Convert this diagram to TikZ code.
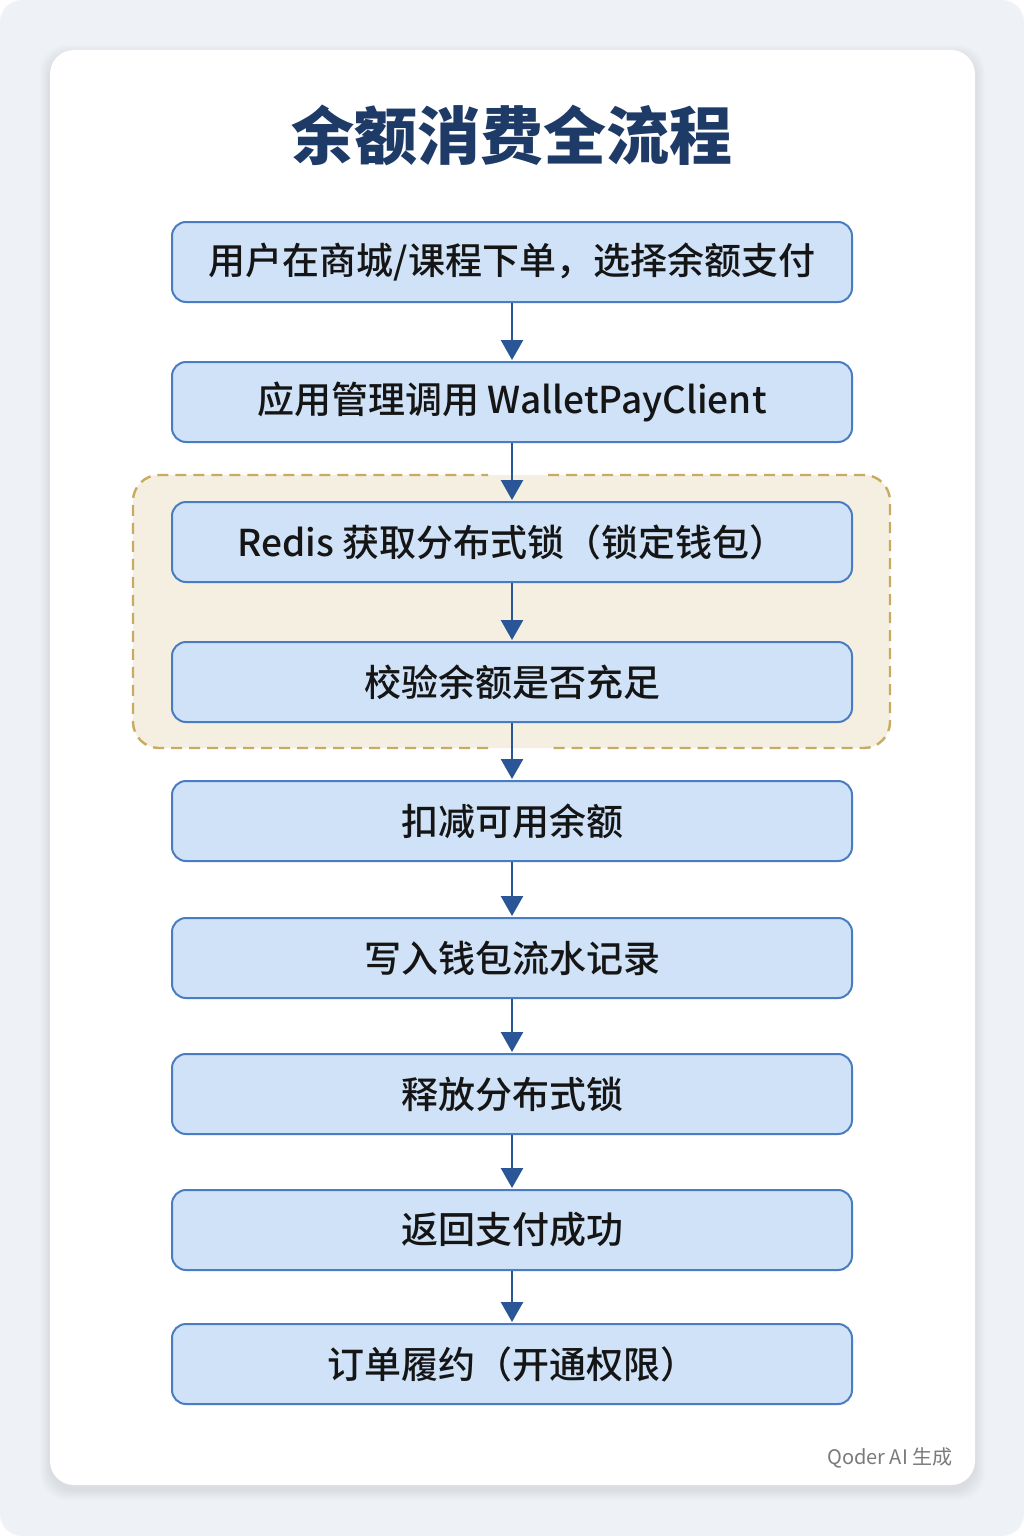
\documentclass[tikz,border=0pt]{standalone}
\usepackage{fontspec}
\setmainfont{Noto Sans CJK SC}
\newfontfamily\medfont{Noto Sans CJK SC Medium}
\usetikzlibrary{arrows.meta}
\definecolor{bgc}{HTML}{EEF2F7}
\definecolor{boxc}{HTML}{D0E2F7}
\definecolor{bordc}{HTML}{4A7CC2}
\definecolor{textc}{HTML}{151515}
\definecolor{titlec}{HTML}{1E3A66}
\definecolor{arrowc}{HTML}{2A5596}
\definecolor{beigec}{HTML}{F4EFE0}
\definecolor{dashc}{HTML}{C9AA62}
\definecolor{markc}{HTML}{7A7A7A}
\tikzset{
  stepbox/.style={rectangle, rounded corners=14pt, draw=bordc, line width=2pt, fill=boxc,
    minimum width=680pt, minimum height=80pt, inner sep=0pt, text=textc,
    font=\medfont\fontsize{37}{42}\selectfont},
  flowarrow/.style={draw=arrowc, line width=2.6pt, -{Triangle[width=22pt,length=20pt]}, shorten >=1pt},
  groupline/.style={draw=dashc, line width=2.4pt, dash pattern=on 11pt off 7pt, rounded corners=26pt}
}
\begin{document}
\begin{tikzpicture}[x=1pt,y=-1pt]
\useasboundingbox (0,0) rectangle (1024,1536);
\fill[white] (0,0) rectangle (1024,1536);
\fill[bgc, rounded corners=22pt] (0,0) rectangle (1024,1536);
% card shadow
\foreach \i in {1,...,10}{
  \fill[black, opacity=0.006, rounded corners=26pt] (50-\i,50-\i+5) rectangle (975+\i,1485+\i+5);
}
\fill[white, rounded corners=24pt] (50,50) rectangle (975,1485);
% title
\node[text=titlec, font=\fontsize{63}{72}\selectfont\bfseries] (title) at (512,135) {余额消费全流程};
% group
\fill[beigec, rounded corners=26pt] (133,475) rectangle (890,748);
\draw[groupline] (548,475) -- (890,475) -- (890,748) -- (548,748);
\draw[groupline] (488,748) -- (133,748) -- (133,475) -- (488,475);
% boxes
\node[stepbox] (b1) at (512,262) {用户在商城/课程下单，选择余额支付};
\node[stepbox] (b2) at (512,402) {应用管理调用 WalletPayClient};
\node[stepbox] (b3) at (512,542) {Redis 获取分布式锁（锁定钱包）};
\node[stepbox] (b4) at (512,682) {校验余额是否充足};
\node[stepbox] (b5) at (512,821) {扣减可用余额};
\node[stepbox] (b6) at (512,958) {写入钱包流水记录};
\node[stepbox] (b7) at (512,1094) {释放分布式锁};
\node[stepbox] (b8) at (512,1230) {返回支付成功};
\node[stepbox] (b9) at (512,1364) {订单履约（开通权限）};
% arrows
\foreach \a/\b in {b1/b2,b2/b3,b3/b4,b4/b5,b5/b6,b6/b7,b7/b8,b8/b9}{
  \draw[flowarrow] (\a.south) -- (\b.north);
}
\node[anchor=east, text=markc, font=\fontsize{20}{24}\selectfont] (mark) at (956,1458) {Qoder AI 生成};
\end{tikzpicture}
\end{document}
